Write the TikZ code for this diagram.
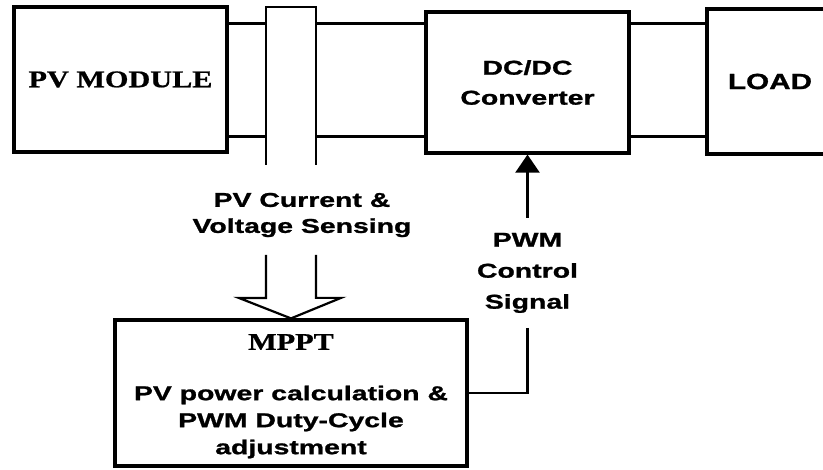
\documentclass[tikz,border=0pt]{standalone}
\usepackage{fontspec}
\usetikzlibrary{arrows.meta}
\newfontfamily\blocksans[FakeStretch=1.42, BoldFeatures={FakeBold=1.2}]{Liberation Sans}
\newfontfamily\loadsans[FakeStretch=1.35, BoldFeatures={FakeBold=1.2}]{Liberation Sans}
\newfontfamily\blockserif[FakeStretch=1.26, BoldFeatures={FakeBold=0.8}]{Liberation Serif}

\begin{document}
\begin{tikzpicture}[x=1pt, y=-1pt,
		box/.style={rectangle, draw, line width=3.2pt, inner sep=0pt, align=center},
		wire/.style={line width=2.2pt},
		sans/.style={font=\blocksans\bfseries\fontsize{20}{27}\selectfont, align=center},
		serif/.style={font=\blockserif\bfseries\fontsize{24}{28}\selectfont, align=center}
		]
		\clip (0,0) rectangle (823,470);
		% power path blocks
		\node[box, serif, minimum width=213pt, minimum height=145pt] (pv) at (120.5,79.5) {PV MODULE};
		\node[box, font=\blocksans\bfseries\fontsize{20}{30}\selectfont, minimum width=203pt, minimum height=141pt] (dcdc) at (527.5,82.5) {DC/DC\\Converter};
		\node[box, font=\loadsans\bfseries\fontsize{22}{26}\selectfont, minimum width=126pt, minimum height=145pt] (load) at (770,81.5) {LOAD};
		
		% controller block
		\node[box, minimum width=352pt, minimum height=146pt] (mppt) at (291,393) {};
		\node[serif] (mpptname) at (291,342) {MPPT};
		\node[sans] (mpptfunc) at (291,422) {PV power calculation \&\\PWM Duty-Cycle\\adjustment};
		
		% sensing bus and labels
		\node[minimum width=50pt, minimum height=158pt, anchor=north, inner sep=0pt, outer sep=0pt] (bus) at (291,7) {};
		\node[sans, font=\blocksans\bfseries\fontsize{20}{26}\selectfont] (sense) at (302,215) {PV Current \&\\Voltage Sensing};
		\node[sans, font=\blocksans\bfseries\fontsize{20}{31}\selectfont, anchor=north, inner xsep=2pt, inner ysep=14.7pt] (pwm) at (527.5,218) {PWM\\Control\\Signal};
		\coordinate (wtop) at (0,23.5);
		\coordinate (wbot) at (0,136.5);
		\coordinate (arrw) at (266,255);
		
		% wires
		\draw[wire] (pv.east |- wtop) -- (bus.west |- wtop);
		\draw[wire] (pv.east |- wbot) -- (bus.west |- wbot);
		\draw[wire] (bus.east |- wtop) -- (dcdc.west |- wtop);
		\draw[wire] (bus.east |- wbot) -- (dcdc.west |- wbot);
		\draw[wire] (dcdc.east |- wtop) -- (load.west |- wtop);
		\draw[wire] (dcdc.east |- wbot) -- (load.west |- wbot);
		\draw[wire] (bus.south west) -- (bus.north west) -- (bus.north east) -- (bus.south east);
		
		% hollow sensing arrow into MPPT
		\draw[wire, line join=miter] (arrw) -- ++(0,43) -- ++(-27,0) -- (mppt.north) -- ++(50,-20.5) -- ++(-25,0) -- ++(0,-43);
		
		% PWM control signal
		\draw[wire, -{Triangle[width=24pt,length=18pt]}] (pwm.north) -- (dcdc.south);
		\draw[wire] (pwm.south) |- (mppt.east);
	\end{tikzpicture}
\end{document}
